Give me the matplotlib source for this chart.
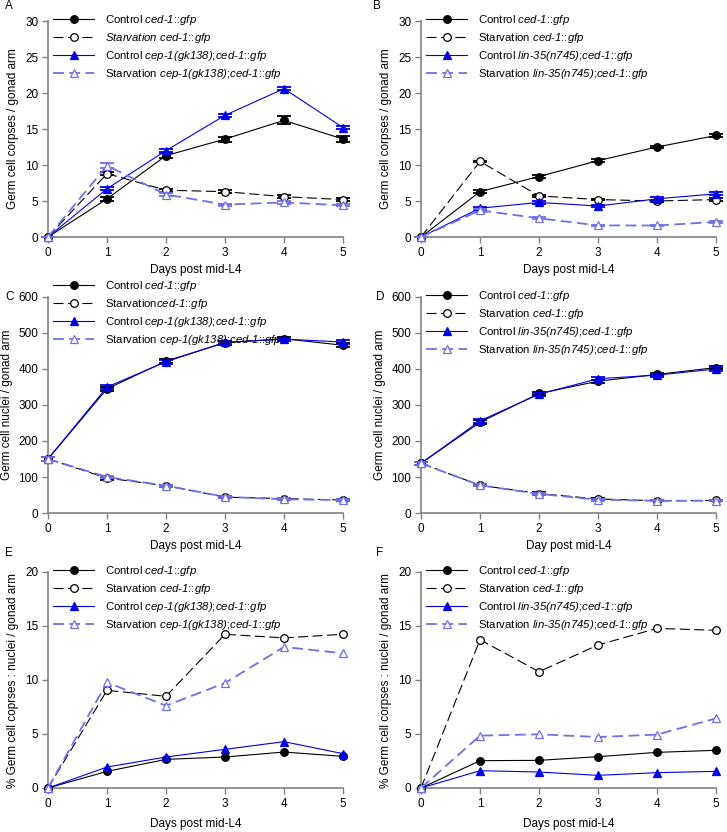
import re
import matplotlib
matplotlib.use("Agg")
import matplotlib.pyplot as plt

plt.rcParams['font.family'] = ['Liberation Sans', 'DejaVu Sans']
plt.rcParams['font.size'] = 8
plt.rcParams['mathtext.fontset'] = 'custom'
plt.rcParams['mathtext.it'] = 'Liberation Sans:italic'
plt.rcParams['mathtext.rm'] = 'Liberation Sans:italic'
plt.rcParams['mathtext.default'] = 'it'

days = [0, 1, 2, 3, 4, 5]

# Panel A - corpses, cep-1
a_ctrl = [0, 5.3, 11.3, 13.6, 16.2, 13.6]
a_ctrl_err = [0, 0.3, 0.3, 0.35, 0.55, 0.4]
a_starv = [0, 8.8, 6.5, 6.3, 5.6, 5.2]
a_starv_err = [0, 0.25, 0.2, 0.2, 0.2, 0.2]
a_mut = [0, 6.7, 12.0, 16.9, 20.6, 15.2]
a_mut_err = [0, 0.2, 0.25, 0.25, 0.25, 0.2]
a_mut_starv = [0, 9.9, 5.9, 4.5, 4.8, 4.4]
a_mut_starv_err = [0, 0.35, 0.15, 0.15, 0.15, 0.15]

# Panel B - corpses, lin-35
b_ctrl = [0, 6.3, 8.4, 10.6, 12.5, 14.1]
b_ctrl_err = [0, 0.25, 0.2, 0.2, 0.2, 0.25]
b_starv = [0, 10.5, 5.7, 5.2, 5.0, 5.2]
b_starv_err = [0, 0.1, 0.2, 0.1, 0.1, 0.15]
b_mut = [0, 4.0, 4.8, 4.3, 5.3, 6.0]
b_mut_err = [0, 0.2, 0.2, 0.2, 0.2, 0.2]
b_mut_starv = [0, 3.7, 2.6, 1.6, 1.6, 2.1]
b_mut_starv_err = [0, 0.2, 0.15, 0.1, 0.1, 0.1]

# Panel C - nuclei, cep-1
c_ctrl = [150, 345, 422, 473, 484, 466]
c_ctrl_err = [5, 6, 5, 5, 5, 6]
c_starv = [150, 97, 76, 44, 40, 36]
c_starv_err = [5, 4, 3, 3, 3, 3]
c_mut = [150, 350, 420, 474, 483, 475]
c_mut_err = [5, 6, 5, 4, 4, 6]
c_mut_starv = [150, 100, 76, 45, 38, 36]
c_mut_starv_err = [5, 4, 3, 3, 3, 3]

# Panel D - nuclei, lin-35
d_ctrl = [138, 252, 332, 366, 385, 404]
d_ctrl_err = [5, 5, 4, 4, 4, 5]
d_starv = [138, 77, 54, 39, 34, 35]
d_starv_err = [5, 3, 3, 3, 2, 2]
d_mut = [138, 256, 330, 373, 383, 400]
d_mut_err = [5, 5, 4, 4, 4, 5]
d_mut_starv = [138, 77, 53, 37, 34, 34]
d_mut_starv_err = [5, 3, 3, 3, 2, 2]

# Panel E - % corpses : nuclei, cep-1
e_ctrl = [0, 1.54, 2.65, 2.87, 3.33, 2.93]
e_starv = [0, 9.04, 8.49, 14.23, 13.9, 14.23]
e_mut = [0, 1.94, 2.87, 3.58, 4.29, 3.18]
e_mut_starv = [0, 9.78, 7.62, 9.72, 13.06, 12.47]

# Panel F - % corpses : nuclei, lin-35
f_ctrl = [0, 2.53, 2.56, 2.90, 3.30, 3.49]
f_starv = [0, 13.73, 10.77, 13.24, 14.78, 14.6]
f_mut = [0, 1.6, 1.48, 1.17, 1.42, 1.54]
f_mut_starv = [0, 4.85, 4.97, 4.72, 4.94, 6.45]

BLACK = '#000000'
BLUE = '#0000e6'
LBLUE = '#7070e6'
GRAY = '#808080'


def ital(s):
    # italic via mathtext; hyphens/colons/semicolons kept as plain text
    parts = re.split(r'(-|::|;)', s)
    out = ''
    for p in parts:
        if p in ('-', '::', ';'):
            out += p
        elif p:
            out += r'$%s$' % p.replace(' ', r'\ ')
    return out


styles = [
    dict(color=BLACK, marker='o', mfc=BLACK, ls='-', lw=0.8),
    dict(color=BLACK, marker='o', mfc='white', ls=(0, (9, 4)), lw=0.8),
    dict(color=BLUE, marker='^', mfc=BLUE, ls='-', lw=0.8),
    dict(color=LBLUE, marker='^', mfc='white', ls=(0, (6, 3)), lw=1.3),
]


def panel(ax, series, errs, labels, ylim, ystep, ylabel, xlabel, leg_y, labelpad):
    for i, (y, st) in enumerate(zip(series, styles)):
        if errs is not None:
            ax.errorbar(days, y, yerr=errs[i], fmt='none', ecolor=st['color'],
                        elinewidth=1.0, capsize=5, capthick=1.3, clip_on=False,
                        zorder=3 + i)
        ax.plot(days, y, color=st['color'], ls=st['ls'], lw=st['lw'],
                marker=st['marker'], ms=5.5, mfc=st['mfc'], mec=st['color'],
                mew=0.9, label=labels[i], clip_on=False, zorder=3 + i)
    ax.set_xlim(0, 5)
    ax.set_ylim(0, ylim)
    ax.set_xticks(days)
    ax.set_yticks(range(0, ylim + 1, ystep))
    for s in ('top', 'right'):
        ax.spines[s].set_visible(False)
    for s in ('left', 'bottom'):
        ax.spines[s].set_color(GRAY)
        ax.spines[s].set_linewidth(1.2)
    ax.tick_params(direction='out', length=4, width=1, color=GRAY, labelsize=8.5, pad=3)
    ax.set_ylabel(ylabel, fontsize=8.5, labelpad=4)
    ax.set_xlabel(xlabel, fontsize=8.5, labelpad=labelpad)
    ax.legend(loc='upper left', bbox_to_anchor=(0.017, leg_y), frameon=False,
              fontsize=8.2, handlelength=3.6, handletextpad=1.0, labelspacing=0.35,
              borderpad=0, borderaxespad=0)


fig = plt.figure(figsize=(7.27, 8.32), dpi=100)
W = 295 / 727
H = 216 / 832
lefts = [48 / 727, 421 / 727]
bottoms = [1 - 237 / 832, 1 - 513 / 832, 1 - 788 / 832]

cep = 'cep-1(gk138);ced-1::gfp'
lin = 'lin-35(n745);ced-1::gfp'
ced = 'ced-1::gfp'

labels_a = ['Control ' + ital(ced), ital('Starvation ced-1::gfp'),
            'Control ' + ital(cep), 'Starvation ' + ital(cep)]
labels_b = ['Control ' + ital(ced), 'Starvation ' + ital(ced),
            'Control ' + ital(lin), 'Starvation ' + ital(lin)]
labels_c = ['Control ' + ital(ced), 'Starvation' + ital(ced),
            'Control ' + ital(cep), 'Starvation ' + ital(cep)]
labels_e = ['Control ' + ital(ced), 'Starvation ' + ital(ced),
            'Control ' + ital(cep), 'Starvation ' + ital(cep)]

axA = fig.add_axes([lefts[0], bottoms[0], W, H])
panel(axA, [a_ctrl, a_starv, a_mut, a_mut_starv],
      [a_ctrl_err, a_starv_err, a_mut_err, a_mut_starv_err], labels_a,
      30, 5, 'Germ cell corpses / gonad arm', 'Days post mid-L4', 1.035, 4)

axB = fig.add_axes([lefts[1], bottoms[0], W, H])
panel(axB, [b_ctrl, b_starv, b_mut, b_mut_starv],
      [b_ctrl_err, b_starv_err, b_mut_err, b_mut_starv_err], labels_b,
      30, 5, 'Germ cell corpses / gonad arm', 'Days post mid-L4', 1.035, 4)

axC = fig.add_axes([lefts[0], bottoms[1], W, H])
panel(axC, [c_ctrl, c_starv, c_mut, c_mut_starv],
      [c_ctrl_err, c_starv_err, c_mut_err, c_mut_starv_err], labels_c,
      600, 100, 'Germ cell nuclei / gonad arm', 'Days post mid-L4', 1.085, 4)

axD = fig.add_axes([lefts[1], bottoms[1], W, H])
panel(axD, [d_ctrl, d_starv, d_mut, d_mut_starv],
      [d_ctrl_err, d_starv_err, d_mut_err, d_mut_starv_err], labels_b,
      600, 100, 'Germ cell nuclei / gonad arm', 'Day post mid-L4', 1.038, 4)

axE = fig.add_axes([lefts[0], bottoms[2], W, H])
panel(axE, [e_ctrl, e_starv, e_mut, e_mut_starv], None, labels_e,
      20, 5, '% Germ cell coprses : nuclei / gonad arm', 'Days post mid-L4', 1.035, 6)

axF = fig.add_axes([lefts[1], bottoms[2], W, H])
panel(axF, [f_ctrl, f_starv, f_mut, f_mut_starv], None, labels_b,
      20, 5, '% Germ cell corpses : nuclei / gonad arm', 'Days post mid-L4', 1.035, 6)

for txt, x, y in [('A', 5, 6), ('B', 373, 6), ('C', 5, 297), ('D', 376, 297),
                  ('E', 5, 553), ('F', 376, 553)]:
    fig.text(x / 727, 1 - y / 832, txt, fontsize=8.5, ha='left', va='center')

fig.savefig('out.png', dpi=100)
